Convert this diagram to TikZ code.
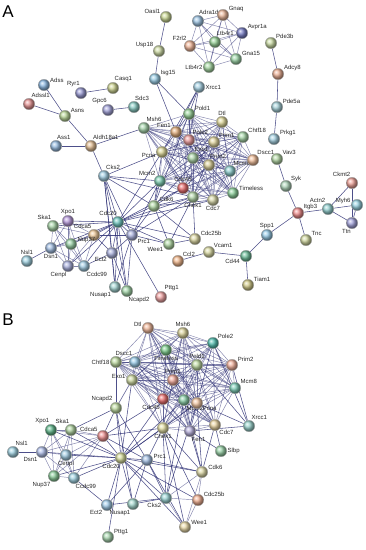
\documentclass[tikz,border=0pt]{standalone}
\usepackage{fontspec}
\setmainfont{Liberation Sans}
\usetikzlibrary{backgrounds}
\definecolor{edge}{HTML}{2E3075}
\newcommand{\gene}[6]{%
  \definecolor{c#1#2}{HTML}{#5}%
  \node[gball=c#1#2, label={[glabel]#6:#2}] (#1#2) at (#3,#4) {};}
\newcommand{\clique}[2]{%
  \foreach \p [count=\i] in {#2}
    \foreach \q [count=\j] in {#2}
      {\ifnum\i<\j\relax \draw[weak] (#1\p) -- (#1\q);\fi}}
\newcommand{\links}[3]{\foreach \q in {#3} \draw[link] (#1#2) -- (#1\q);}

\begin{document}
\begin{tikzpicture}[x=1pt, y=-1pt, label distance=0pt,
  gball/.style={circle, minimum size=11.5pt, inner sep=0pt, shading=ball, ball color=#1!90!white, draw=black!35, line width=.3pt},
  glabel/.style={font=\fontsize{6}{7}\selectfont, inner sep=.5pt, text=black!85},
  link/.style={draw=edge, line width=.55pt, opacity=.85},
  weak/.style={draw=edge, line width=.45pt, opacity=.6},
  panel/.style={font=\fontsize{17}{17}\selectfont}]
  \useasboundingbox (0,0) rectangle (365,550);
  \node[panel] (panelA) at (8,12) {A};
  \node[panel] (panelB) at (8,320) {B};
  % A: full network
  \gene{a}{Oasl1}{166}{17}{C8D78C}{150}
  \gene{a}{Usp18}{159}{51}{CBD99E}{150}
  \gene{a}{Isg15}{155}{79}{92CBE6}{30}
  \gene{a}{Adss}{44}{85}{82B4E2}{20}
  \gene{a}{Adssl1}{29}{104}{E68C8C}{70}
  \gene{a}{Ryr1}{81}{93}{9192D2}{95}
  \gene{a}{Casq1}{113}{88}{CDD48C}{80}
  \gene{a}{Gpc6}{108}{110}{9C9CD8}{95}
  \gene{a}{Sdc3}{134}{107}{80C9C0}{85}
  \gene{a}{Asns}{65}{116}{B6D690}{30}
  \gene{a}{Ass1}{56}{146}{90B9E2}{85}
  \gene{a}{Aldh18a1}{91}{146}{E2BA8C}{75}
  \gene{a}{Msh6}{144}{128}{A0D3A6}{70}
  \gene{a}{Fen1}{176}{132}{E2A872}{140}
  \gene{a}{Pcna}{162}{152}{DAD48E}{190}
  \gene{a}{Adra1d}{198}{21}{95C0E2}{85}
  \gene{a}{Gnaq}{223}{15}{EAB292}{30}
  \gene{a}{Avpr1a}{242}{33}{6C72C2}{30}
  \gene{a}{F2rl2}{190}{46}{F2B292}{120}
  \gene{a}{Ltb4r1}{215}{42}{90D090}{80}
  \gene{a}{Gna15}{236}{59}{96D4A2}{25}
  \gene{a}{Ltb4r2}{209}{67}{A0D79C}{180}
  \gene{a}{Pde3b}{271}{43}{C6D99C}{40}
  \gene{a}{Adcy8}{278}{74}{ECAA8C}{25}
  \gene{a}{Pde5a}{277}{107}{A0D0D8}{30}
  \gene{a}{Prkg1}{274}{139}{A0D0E2}{25}
  \gene{a}{Xrcc1}{199}{87}{A0D0E4}{0}
  \gene{a}{Pold1}{189}{114}{90D090}{30}
  \gene{a}{Dtl}{222}{122}{DED692}{90}
  \gene{a}{Chtf18}{243}{137}{A0D4A2}{40}
  \gene{a}{Pole2}{189}{140}{EA9292}{60}
  \gene{a}{Prim1}{214}{142}{DFD396}{45}
  \gene{a}{Exo1}{193}{158}{A6D4A2}{80}
  \gene{a}{Prim2}{209}{165}{D9CD90}{85}
  \gene{a}{Mcm8}{230}{171}{82C9C9}{60}
  \gene{a}{Dscc1}{253}{160}{F2BA92}{50}
  \gene{a}{Timeless}{233}{193}{82CD92}{20}
  \gene{a}{Mcm2}{160}{181}{72C9AA}{130}
  \gene{a}{Cdc45}{183}{188}{EA6262}{90}
  \gene{a}{Cdk6}{154}{206}{AAD59C}{35}
  \gene{a}{Chek1}{193}{197}{AED4A2}{270}
  \gene{a}{Cdc7}{213}{200}{D4D4A0}{270}
  \gene{a}{Cdc25b}{195}{239}{DBD69C}{30}
  \gene{a}{Wee1}{169}{244}{AAD59C}{210}
  \gene{a}{Ccl2}{178}{261}{F2B282}{45}
  \gene{a}{Vcam1}{209}{252}{D8D89C}{45}
  \gene{a}{Cd44}{246}{256}{62BA92}{200}
  \gene{a}{Tiam1}{248}{285}{D0C880}{30}
  \gene{a}{Spp1}{267}{235}{90CAEA}{90}
  \gene{a}{Vav3}{277}{159}{AED59E}{35}
  \gene{a}{Syk}{286}{186}{AAD4B6}{40}
  \gene{a}{Itgb3}{298}{213}{F08282}{30}
  \gene{a}{Tnc}{306}{240}{D0D79A}{35}
  \gene{a}{Actn2}{328}{209}{8ACDCD}{110}
  \gene{a}{Ckmt2}{352}{183}{F09C92}{100}
  \gene{a}{Myh6}{357}{205}{90D2E2}{170}
  \gene{a}{Ttn}{352}{223}{9E9EDC}{265}
  \gene{a}{Cks2}{104}{176}{9ACCE2}{75}
  \gene{a}{Cdc20}{118}{222}{62C2BA}{95}
  \gene{a}{Xpo1}{68}{221}{B292DA}{90}
  \gene{a}{Ska1}{53}{226}{A0D1A0}{100}
  \gene{a}{Cdca5}{94}{235}{EEC692}{110}
  \gene{a}{Prc1}{132}{235}{A2AADC}{325}
  \gene{a}{Nup37}{71}{244}{90CD9E}{10}
  \gene{a}{Dsn1}{51}{248}{9AB9E2}{270}
  \gene{a}{Nsl1}{27}{261}{9AD1E2}{90}
  \gene{a}{Cenpl}{68}{266}{A2AADC}{260}
  \gene{a}{Ccdc99}{84}{266}{9AC9E2}{290}
  \gene{a}{Ect2}{112}{253}{A2AADC}{220}
  \gene{a}{Nusap1}{115}{287}{9CD3D0}{235}
  \gene{a}{Ncapd2}{127}{291}{9CD4A2}{280}
  \gene{a}{Pttg1}{161}{297}{F09C9C}{60}
  \begin{pgfonlayer}{background}
    \clique{a}{Adra1d,Gnaq,Avpr1a,F2rl2,Ltb4r1,Gna15,Ltb4r2}
    \clique{a}{Pold1,Dtl,Chtf18,Pole2,Prim1,Fen1,Msh6,Pcna,Exo1,Prim2,Mcm8,Dscc1,Timeless,Mcm2,Cdc45,Chek1,Cdc7}
    \clique{a}{Xpo1,Ska1,Cdca5,Nup37,Dsn1,Cenpl,Ccdc99}
    \links{a}{Usp18}{Oasl1,Isg15}
    \links{a}{Isg15}{Pold1,Fen1}
    \links{a}{Asns}{Adss,Adssl1,Aldh18a1}
    \links{a}{Aldh18a1}{Ass1,Msh6,Cks2}
    \links{a}{Ryr1}{Casq1}
    \links{a}{Gpc6}{Sdc3}
    \links{a}{Adcy8}{Pde3b,Pde5a}
    \links{a}{Pde5a}{Prkg1}
    \links{a}{Xrcc1}{Pold1,Pcna,Pole2,Fen1}
    \links{a}{Cdk6}{Pcna,Mcm2,Cdc45,Chek1,Cdc7,Prim1,Pold1,Cdc20,Cks2,Wee1,Cdc25b,Prc1}
    \links{a}{Cdc20}{Cks2,Pcna,Mcm2,Cdc45,Chek1,Cdc7,Wee1,Cdc25b,Prc1,Cdca5,Ect2,Nusap1,Ncapd2,Pttg1,Xpo1,Ska1,Nup37,Dsn1,Cenpl,Ccdc99}
    \links{a}{Cks2}{Pcna,Mcm2,Ect2,Nusap1,Ncapd2,Prc1,Chek1}
    \links{a}{Chek1}{Cdc25b,Wee1}
    \links{a}{Wee1}{Cdc25b}
    \links{a}{Prc1}{Ect2,Nusap1,Ncapd2,Cdca5,Wee1,Chek1,Mcm2}
    \links{a}{Ect2}{Cdca5,Ccdc99,Nusap1,Ncapd2}
    \links{a}{Nusap1}{Ncapd2}
    \links{a}{Nsl1}{Dsn1}
    \links{a}{Cd44}{Spp1,Tiam1,Vcam1}
    \links{a}{Vcam1}{Ccl2}
    \links{a}{Itgb3}{Spp1,Syk,Tnc,Actn2}
    \links{a}{Syk}{Vav3}
    \links{a}{Actn2}{Ckmt2,Myh6,Ttn}
    \links{a}{Ttn}{Myh6,Ckmt2}
  \end{pgfonlayer}
  % B: cell cycle subnetwork
  \gene{b}{Dtl}{148}{328}{F0B292}{170}
  \gene{b}{Msh6}{183}{333}{D8D092}{90}
  \gene{b}{Pole2}{213}{343}{42BAAA}{45}
  \gene{b}{Timeless}{166}{350}{72CA82}{270}
  \gene{b}{Chtf18}{116}{362}{BAD99A}{180}
  \gene{b}{Dscc1}{135}{362}{92CAEA}{110}
  \gene{b}{Pold1}{197}{365}{BAD99A}{90}
  \gene{b}{Prim2}{232}{365}{F2AA92}{30}
  \gene{b}{Exo1}{132}{380}{CAD79A}{170}
  \gene{b}{Prim1}{173}{380}{F2A292}{90}
  \gene{b}{Mcm8}{235}{388}{72CAB2}{35}
  \gene{b}{Cdc45}{163}{399}{EA6262}{245}
  \gene{b}{Mcm2}{184}{400}{82CDA2}{290}
  \gene{b}{Pcna}{197}{403}{F2C29A}{330}
  \gene{b}{Ncapd2}{116}{408}{BAD99A}{120}
  \gene{b}{Xrcc1}{249}{426}{92D1CA}{70}
  \gene{b}{Xpo1}{51}{430}{52B282}{100}
  \gene{b}{Ska1}{71}{430}{AAD19A}{100}
  \gene{b}{Cdca5}{103}{436}{F08A8A}{145}
  \gene{b}{Chek1}{163}{428}{E2DD9C}{270}
  \gene{b}{Fen1}{190}{431}{B2AADA}{280}
  \gene{b}{Cdc7}{215}{425}{EAD29A}{310}
  \gene{b}{Slbp}{221}{451}{92D1A2}{0}
  \gene{b}{Nsl1}{13}{452}{9AD1E2}{70}
  \gene{b}{Dsn1}{42}{452}{AABAEA}{230}
  \gene{b}{Cenpl}{66}{455}{9AC9E2}{270}
  \gene{b}{Nup37}{54}{476}{82CA92}{240}
  \gene{b}{Ccdc99}{74}{478}{9AD1E2}{280}
  \gene{b}{Cdc20}{121}{458}{D2D992}{265}
  \gene{b}{Prc1}{147}{460}{9AB9E2}{5}
  \gene{b}{Cdk6}{202}{472}{DED9A2}{15}
  \gene{b}{Cdc25b}{198}{500}{F2AA8A}{30}
  \gene{b}{Cks2}{166}{498}{92D1D1}{225}
  \gene{b}{Ect2}{107}{505}{9AC9EA}{225}
  \gene{b}{Nusap1}{133}{504}{9CD5CA}{250}
  \gene{b}{Wee1}{185}{527}{EAD9A2}{15}
  \gene{b}{Pttg1}{108}{537}{A2D5AA}{20}
  \begin{pgfonlayer}{background}
    \clique{b}{Dtl,Msh6,Pole2,Timeless,Chtf18,Dscc1,Pold1,Prim2,Exo1,Prim1,Mcm8,Cdc45,Mcm2,Pcna,Chek1,Fen1,Cdc7}
    \clique{b}{Xpo1,Ska1,Cdca5,Dsn1,Cenpl,Nup37,Ccdc99}
    \clique{b}{Cdk6,Cdc25b,Wee1,Cks2}
    \links{b}{Nsl1}{Dsn1}
    \links{b}{Xrcc1}{Pold1,Pcna,Pole2,Fen1,Prim2}
    \links{b}{Ncapd2}{Cdc20,Prc1,Nusap1,Cdca5,Ska1,Exo1,Chtf18}
    \links{b}{Cdc20}{Cdca5,Xpo1,Ska1,Dsn1,Cenpl,Nup37,Ccdc99,Prc1,Ect2,Nusap1,Cks2,Chek1,Cdc45,Mcm2,Pcna,Cdk6,Cdc25b,Wee1,Pttg1,Exo1}
    \links{b}{Prc1}{Ect2,Nusap1,Cks2,Chek1,Cdk6,Cdca5,Wee1}
    \links{b}{Cks2}{Chek1,Pcna,Mcm2,Nusap1,Ect2}
    \links{b}{Cdk6}{Chek1,Cdc7,Pcna,Fen1,Mcm2}
    \links{b}{Cdc25b}{Chek1}
    \links{b}{Wee1}{Chek1}
    \links{b}{Slbp}{Cdc7,Fen1}
    \links{b}{Ect2}{Ccdc99}
    \links{b}{Cdca5}{Chek1,Cdc45}
  \end{pgfonlayer}
\end{tikzpicture}
\end{document}
